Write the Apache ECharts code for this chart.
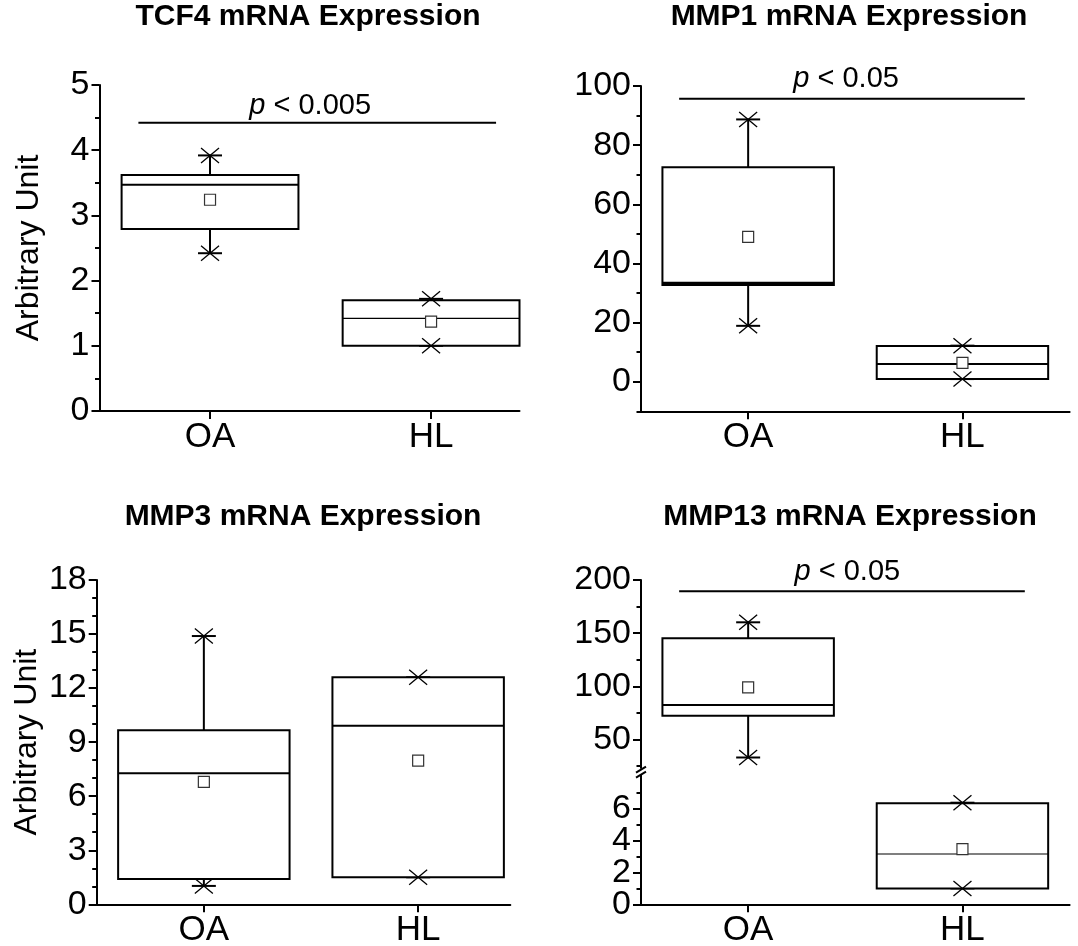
<!DOCTYPE html>
<html>
<head>
<meta charset="utf-8">
<script src="https://cdn.jsdelivr.net/npm/echarts@6/dist/echarts.min.js"></script>
<style>
html,body{margin:0;padding:0;background:#fff;}
#c{width:1078px;height:946px;}
</style>
</head>
<body>
<div id="c"></div>
<script>
// ---------------- data ----------------
const CATEGORIES = ['OA', 'HL'];
const GROUP_X = [1, 2];

// each row: [min, Q1, median, Q3, max]
const TCF4_BOX = [[2.42, 2.79, 3.47, 3.62, 3.92], [1.00, 1.00, 1.42, 1.70, 1.72]];
const TCF4_MEAN = [3.24, 1.37];
const MMP1_BOX = [[18.9, 32.7, 33.4, 72.5, 88.7], [0.9, 0.9, 6.0, 12.1, 12.2]];
const MMP1_MEAN = [49.0, 6.4];
const MMP3_BOX = [[1.02, 1.40, 7.27, 9.66, 14.89], [1.50, 1.50, 9.91, 12.60, 12.60]];
const MMP3_MEAN = [6.80, 7.97];
const MMP13_BOX = [[33.0, 72.2, 82.3, 145.1, 160.2], [1.0, 1.0, 3.17, 6.36, 6.40]];
const MMP13_MEAN = [99.0, 3.48];

// significance bars: [x start, x end, y level, label x]
const TCF4_SIG = [0.676, 2.294, 4.42, 1.453];
const MMP1_SIG = [0.678, 2.291, 95.7, 1.457];
const MMP13_SIG = [0.678, 2.291, 189.4, 1.463];
const TCF4_P = '< 0.005';
const MMP1_P = '< 0.05';
const MMP13_P = '< 0.05';

// tick labels
const TCF4_TICKS = [0, 1, 2, 3, 4, 5];
const TCF4_MINOR = [0.5, 1.5, 2.5, 3.5, 4.5];
const MMP1_TICKS = [0, 20, 40, 60, 80, 100];
const MMP1_MINOR = [-10, 10, 30, 50, 70, 90];
const MMP3_TICKS = [0, 3, 6, 9, 12, 15, 18];
const MMP3_MINOR = [1, 2, 4, 5, 7, 8, 10, 11, 13, 14, 16, 17];
const MMP13_UP_TICKS = [50, 100, 150, 200];
const MMP13_UP_MINOR = [25, 75, 125, 175];
const MMP13_LO_TICKS = [0, 2, 4, 6];
const MMP13_LO_MINOR = [1, 3, 5, 7];

const TITLES = ['TCF4 mRNA Expression', 'MMP1 mRNA Expression', 'MMP3 mRNA Expression', 'MMP13 mRNA Expression'];
const Y_NAME = 'Arbitrary Unit';

// ---------------- styling ----------------
const FONT = "'Liberation Sans', Arial, Helvetica, sans-serif";
const BOX_HALF = 0.4;

function boxItems(box, mean, idx) {
  return idx.map(i => [GROUP_X[i]].concat(box[i], [mean[i]]));
}

function boxRenderer(medW) {
  return function (params, api) {
    const x = api.value(0);
    const mn = api.value(1), q1 = api.value(2), md = api.value(3), q3 = api.value(4), mx = api.value(5), mean = api.value(6);
    const pL = api.coord([x - BOX_HALF, q3]);
    const pR = api.coord([x + BOX_HALF, q1]);
    const pMd = api.coord([x, md]);
    const pMn = api.coord([x, mn]);
    const pMx = api.coord([x, mx]);
    const pMean = api.coord([x, mean]);
    const cx = pMd[0];
    const line = (x1, y1, x2, y2, w) => ({ type: 'line', shape: { x1, y1, x2, y2 }, style: { stroke: '#000', lineWidth: w } });
    const cross = (px, py) => [line(px - 9, py - 7.5, px + 9, py + 7.5, 1.3), line(px - 9, py + 7.5, px + 9, py - 7.5, 1.3)];
    const children = [
      line(cx, pL[1], cx, pMx[1], 2),
      line(cx, pR[1], cx, pMn[1], 2),
      line(cx - 12, pMx[1], cx + 12, pMx[1], 2),
      line(cx - 12, pMn[1], cx + 12, pMn[1], 2),
      { type: 'rect', shape: { x: pL[0], y: pL[1], width: pR[0] - pL[0], height: pR[1] - pL[1] }, style: { fill: '#fff', stroke: '#000', lineWidth: 2 } },
      line(pL[0], pMd[1], pR[0], pMd[1], medW[params.dataIndex]),
      { type: 'rect', shape: { x: cx - 5.5, y: pMean[1] - 5.5, width: 11, height: 11 }, style: { fill: '#fff', stroke: '#333', lineWidth: 1.2 } }
    ].concat(cross(cx, pMx[1]), cross(cx, pMn[1]));
    return { type: 'group', children };
  };
}

function sigRenderer(label, gap) {
  return function (params, api) {
    const a = api.coord([api.value(0), api.value(2)]);
    const b = api.coord([api.value(1), api.value(2)]);
    const t = api.coord([api.value(3), api.value(2)]);
    return {
      type: 'group', children: [
        { type: 'line', shape: { x1: a[0], y1: a[1], x2: b[0], y2: b[1] }, style: { stroke: '#000', lineWidth: 2 } },
        {
          type: 'text', style: {
            x: t[0], y: t[1] - gap, text: '{i|p} ' + label,
            rich: { i: { fontStyle: 'italic', fontSize: 29, fontFamily: FONT, fill: '#000' } },
            fontSize: 29, fontFamily: FONT, fill: '#000', align: 'center', verticalAlign: 'bottom'
          }
        }
      ]
    };
  };
}

const GRIDS = [
  { left: 99.5, top: 85, width: 420, height: 326 },
  { left: 641, top: 86, width: 428.6, height: 325.3 },
  { left: 96.7, top: 580, width: 413.6, height: 324.3 },
  { left: 641, top: 580, width: 428.6, height: 186 },
  { left: 641, top: 777.3, width: 428.6, height: 127 }
];
const X_MAX = [2.4, 2.5, 2.43, 2.5, 2.5];

function xAxis(i, show) {
  return {
    type: 'value', gridIndex: i, min: 0.5, max: X_MAX[i], show: show, position: 'bottom',
    axisLine: { show: true, onZero: false, lineStyle: { color: '#000', width: 2 } },
    axisTick: { show: true, length: 8, lineStyle: { color: '#000', width: 2 }, customValues: GROUP_X },
    axisLabel: { show: true, interval: 0, customValues: GROUP_X, formatter: v => CATEGORIES[Math.round(v) - 1] || '', color: '#000', fontSize: 35, fontFamily: FONT, margin: 9, hideOverlap: false },
    splitLine: { show: false }
  };
}
function yAxis(i, min, max, ticks, labels, name) {
  return {
    type: 'value', gridIndex: i, min, max, position: 'left',
    name: name || '', nameLocation: 'middle', nameRotate: 90, nameGap: 54,
    nameTextStyle: { color: '#000', fontSize: 32, fontFamily: FONT },
    axisLine: { show: true, onZero: false, lineStyle: { color: '#000', width: 2 } },
    axisTick: { show: true, interval: 0, length: 8, lineStyle: { color: '#000', width: 2 }, customValues: ticks },
    axisLabel: { show: true, interval: 0, customValues: labels, color: '#000', fontSize: 34, fontFamily: FONT, margin: 10, hideOverlap: false },
    splitLine: { show: false }
  };
}
function yMinor(i, min, max, ticks, labels) {
  return {
    type: 'value', gridIndex: i, min, max, position: 'left', offset: 0,
    axisLine: { show: false, onZero: false },
    axisTick: { show: true, interval: 0, length: 4.5, lineStyle: { color: '#000', width: 2 }, customValues: ticks },
    axisLabel: labels
      ? { show: true, interval: 0, customValues: labels, color: '#000', fontSize: 34, fontFamily: FONT, margin: 10, hideOverlap: false }
      : { show: false },
    splitLine: { show: false }
  };
}

const option = {
  animation: false,
  backgroundColor: '#fff',
  grid: GRIDS.map(g => Object.assign({ containLabel: false, outerBoundsMode: 'none' }, g)),
  xAxis: [xAxis(0, true), xAxis(1, true), xAxis(2, true), xAxis(3, false), xAxis(4, true)],
  yAxis: [
    yAxis(0, 0, 5, TCF4_TICKS, TCF4_TICKS, Y_NAME),
    yAxis(1, -10, 100, MMP1_TICKS, MMP1_TICKS),
    yAxis(2, 0, 18, MMP3_TICKS, MMP3_TICKS, Y_NAME),
    yAxis(3, 25, 200, MMP13_UP_TICKS, MMP13_UP_TICKS),
    // lower segment: labels split over two axes so none are dropped as overlapping
    yAxis(4, 0, 8, MMP13_LO_TICKS, MMP13_LO_TICKS.filter((v, k) => k % 2 === 0)),
    yMinor(0, 0, 5, TCF4_MINOR),
    yMinor(1, -10, 100, MMP1_MINOR),
    yMinor(2, 0, 18, MMP3_MINOR),
    yMinor(3, 25, 200, MMP13_UP_MINOR),
    yMinor(4, 0, 8, MMP13_LO_MINOR, MMP13_LO_TICKS.filter((v, k) => k % 2 === 1))
  ],
  series: [
    { type: 'custom', xAxisIndex: 0, yAxisIndex: 0, data: boxItems(TCF4_BOX, TCF4_MEAN, [0, 1]), renderItem: boxRenderer([2, 1.2]), encode: { x: 0, y: [1, 2, 3, 4, 5, 6] } },
    { type: 'custom', xAxisIndex: 1, yAxisIndex: 1, data: boxItems(MMP1_BOX, MMP1_MEAN, [0, 1]), renderItem: boxRenderer([2.5, 2]), encode: { x: 0, y: [1, 2, 3, 4, 5, 6] } },
    { type: 'custom', xAxisIndex: 2, yAxisIndex: 2, data: boxItems(MMP3_BOX, MMP3_MEAN, [0, 1]), renderItem: boxRenderer([2, 2]), encode: { x: 0, y: [1, 2, 3, 4, 5, 6] } },
    { type: 'custom', xAxisIndex: 3, yAxisIndex: 3, data: boxItems(MMP13_BOX, MMP13_MEAN, [0]), renderItem: boxRenderer([2]), encode: { x: 0, y: [1, 2, 3, 4, 5, 6] } },
    { type: 'custom', xAxisIndex: 4, yAxisIndex: 4, data: boxItems(MMP13_BOX, MMP13_MEAN, [1]), renderItem: boxRenderer([1.2]), encode: { x: 0, y: [1, 2, 3, 4, 5, 6] } },
    { type: 'custom', xAxisIndex: 0, yAxisIndex: 0, data: [TCF4_SIG], renderItem: sigRenderer(TCF4_P, 2), encode: { x: [0, 1], y: 2 } },
    { type: 'custom', xAxisIndex: 1, yAxisIndex: 1, data: [MMP1_SIG], renderItem: sigRenderer(MMP1_P, 5), encode: { x: [0, 1], y: 2 } },
    { type: 'custom', xAxisIndex: 3, yAxisIndex: 3, data: [MMP13_SIG], renderItem: sigRenderer(MMP13_P, 4.5), encode: { x: [0, 1], y: 2 } }
  ],
  graphic: [
    { type: 'text', x: 308, y: 16.5, style: { text: TITLES[0], font: 'bold 30px ' + FONT, fill: '#000', align: 'center', verticalAlign: 'middle' } },
    { type: 'text', x: 849, y: 16.5, style: { text: TITLES[1], font: 'bold 30px ' + FONT, fill: '#000', align: 'center', verticalAlign: 'middle' } },
    { type: 'text', x: 303, y: 517, style: { text: TITLES[2], font: 'bold 30px ' + FONT, fill: '#000', align: 'center', verticalAlign: 'middle' } },
    { type: 'text', x: 850, y: 517, style: { text: TITLES[3], font: 'bold 30px ' + FONT, fill: '#000', align: 'center', verticalAlign: 'middle' } }
  ]
};

const chart = echarts.init(document.getElementById('c'), null, { renderer: 'canvas' });
chart.setOption(option);

// axis-break marks between the two segments of the MMP13 y axis
const up = chart.convertToPixel({ gridIndex: 3 }, [0.5, 25]);
const lo = chart.convertToPixel({ gridIndex: 4 }, [0.5, 8]);
const mid = (up[1] + lo[1]) / 2;
const ax = up[0];
chart.setOption({
  graphic: option.graphic.concat([
    { type: 'line', shape: { x1: ax, y1: up[1], x2: ax, y2: mid - 3 }, style: { stroke: '#000', lineWidth: 2 } },
    { type: 'line', shape: { x1: ax - 5, y1: mid + 1, x2: ax + 5, y2: mid - 5 }, style: { stroke: '#000', lineWidth: 2 } },
    { type: 'line', shape: { x1: ax - 5, y1: mid + 6, x2: ax + 5, y2: mid }, style: { stroke: '#000', lineWidth: 2 } },
    { type: 'line', shape: { x1: ax, y1: mid + 3, x2: ax, y2: lo[1] }, style: { stroke: '#000', lineWidth: 2 } }
  ])
});
</script>
</body>
</html>
